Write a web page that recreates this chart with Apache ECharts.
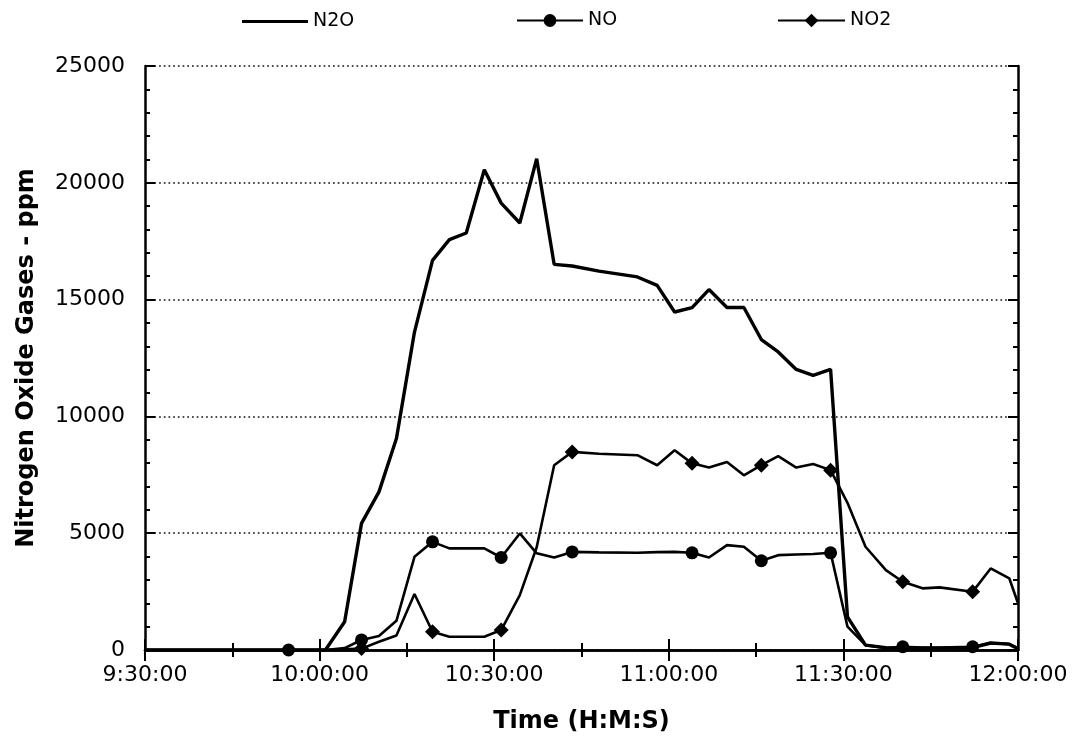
<!DOCTYPE html>
<html><head><meta charset="utf-8">
<script src="https://cdn.jsdelivr.net/npm/echarts@6/dist/echarts.min.js"></script>
<style>html,body{margin:0;padding:0;background:#fff}#c{width:1078px;height:751px}</style>
</head><body><div id="c"></div>
<script>
// Sample times (H:MM:SS)
const times = ['9:30:00','9:54:40','10:01:00','10:04:18','10:07:12','10:10:12','10:13:12','10:16:18','10:19:24','10:22:18',
  '10:25:12','10:28:18','10:31:12','10:34:24','10:37:18','10:40:18','10:43:24','10:48:00','10:54:36','10:58:00',
  '11:01:00','11:04:00','11:06:54','11:10:00','11:12:54','11:15:54','11:18:48','11:21:54','11:24:48','11:27:48',
  '11:30:42','11:33:48','11:37:18','11:40:12','11:43:36','11:46:30','11:52:12','11:55:18','11:58:30','12:00:00'];
const n2o = [0,0,0,1210,5420,6770,9050,13610,16680,17570,
  17850,20560,19130,18280,21030,16510,16440,16220,15970,15610,
  14470,14660,15430,14660,14660,13290,12760,12010,11760,12010,
  1420,210,100,80,80,80,100,300,250,50];
const no = [0,0,0,80,430,600,1250,3990,4630,4350,
  4350,4350,3960,4990,4140,3960,4200,4180,4160,4190,
  4200,4160,3960,4490,4420,3820,4060,4090,4110,4160,
  1000,210,80,140,100,100,140,300,250,80];
const no2 = [0,0,0,30,60,350,620,2400,780,570,
  570,570,855,2350,4400,7910,8480,8400,8340,7910,
  8550,7990,7810,8050,7480,7910,8300,7810,7960,7700,
  6300,4420,3420,2920,2640,2680,2490,3490,3070,2000];
const noMarkerTimes = ['9:54:40','10:07:12','10:19:24','10:31:12','10:43:24','11:04:00','11:15:54','11:27:48','11:40:12','11:52:12'];
const no2MarkerTimes = ['10:07:12','10:19:24','10:31:12','10:43:24','11:04:00','11:15:54','11:27:48','11:40:12','11:52:12'];
const seriesNames = ['N2O','NO','NO2'];
const xTickLabels = ['9:30:00','10:00:00','10:30:00','11:00:00','11:30:00','12:00:00'];
const yTickLabels = ['0','5000','10000','15000','20000','25000'];
const xTitle = 'Time (H:M:S)';
const yTitle = 'Nitrogen Oxide Gases - ppm';

const toMin = s => { const p = s.split(':').map(Number); return p[0]*60 + p[1] + p[2]/60; };
const X0 = toMin(xTickLabels[0]), X1 = toMin(xTickLabels[xTickLabels.length-1]);
const XI = toMin(xTickLabels[1]) - X0;
const YMAX = Number(yTickLabels[yTickLabels.length-1]), YI = Number(yTickLabels[1]);
const pairs = arr => times.map((t,i) => [toMin(t), arr[i]]);
const noSet = new Set(noMarkerTimes), no2Set = new Set(no2MarkerTimes);

const FONT = 'DejaVu Sans';
const axisLine = {show:true, lineStyle:{color:'#000', width:2.5}};
const xBase = {type:'value', min:X0, max:X1, interval:XI,
  axisLine, axisTick:{show:true, inside:true, length:11, lineStyle:{color:'#000', width:2}},
  minorTick:{show:true, splitNumber:2, length:7, lineStyle:{color:'#000', width:2}},
  splitLine:{show:false}};
const yBase = {type:'value', min:0, max:YMAX, interval:YI,
  axisLine, axisTick:{show:true, inside:true, length:10, lineStyle:{color:'#000', width:2}},
  minorTick:{show:true, splitNumber:5, length:5, lineStyle:{color:'#000', width:2}}};

const legendText = {fontFamily:FONT, fontSize:19, color:'#000'};

const chart = echarts.init(document.getElementById('c'), null, {renderer:'canvas'});
chart.setOption({
  animation:false,
  backgroundColor:'#fff',
  grid:{left:145, right:60, top:66, bottom:101, containLabel:false},
  legend:[
    {data:[{name:seriesNames[0], icon:'rect'}], left:242, top:12, padding:0, itemWidth:66, itemHeight:3,
      itemStyle:{color:'#000'}, textStyle:legendText, selectedMode:false},
    {data:[seriesNames[1]], left:516, top:11, padding:0, itemWidth:66, itemHeight:16,
      textStyle:legendText, selectedMode:false},
    {data:[seriesNames[2]], left:777, top:11, padding:0, itemWidth:67, itemHeight:17,
      textStyle:legendText, selectedMode:false}
  ],
  xAxis:[
    Object.assign({}, xBase, {position:'bottom',
      axisLabel:{show:true, margin:14, fontFamily:FONT, fontSize:22, color:'#000',
        formatter: v => xTickLabels[Math.round((v - X0)/XI)] || ''},
      name:xTitle, nameLocation:'middle', nameGap:60,
      nameTextStyle:{fontFamily:FONT, fontSize:24, fontWeight:'bold', color:'#000'}}),
    Object.assign({}, xBase, {position:'top', axisLabel:{show:false}})
  ],
  yAxis:[
    Object.assign({}, yBase, {position:'left',
      axisLabel:{show:true, margin:20, fontFamily:FONT, fontSize:22, color:'#000',
        formatter: v => yTickLabels[Math.round(v / YI)] || ''},
      splitLine:{show:true, lineStyle:{color:'#111', width:1.7, type:[1.7,3]}},
      name:yTitle, nameLocation:'middle', nameGap:106, nameRotate:90,
      nameTextStyle:{fontFamily:FONT, fontSize:24, fontWeight:'bold', color:'#000'}}),
    Object.assign({}, yBase, {position:'right', axisLabel:{show:false}, splitLine:{show:false}})
  ],
  series:[
    {name:seriesNames[0], type:'line', data:pairs(n2o), symbol:'none',
      lineStyle:{color:'#000', width:3.4}, itemStyle:{color:'#000'}, emphasis:{disabled:true}, z:4},
    {name:seriesNames[1], type:'line', data:pairs(no), symbol:'circle', showAllSymbol:true,
      symbolSize:(v,p) => noSet.has(times[p.dataIndex]) ? 13 : 0,
      lineStyle:{color:'#000', width:2.6}, itemStyle:{color:'#000'}, emphasis:{disabled:true}, z:3},
    {name:seriesNames[2], type:'line', data:pairs(no2), symbol:'diamond', showAllSymbol:true,
      symbolSize:(v,p) => no2Set.has(times[p.dataIndex]) ? 15 : 0,
      lineStyle:{color:'#000', width:2.6}, itemStyle:{color:'#000'}, emphasis:{disabled:true}, z:3}
  ]
});
</script></body></html>
